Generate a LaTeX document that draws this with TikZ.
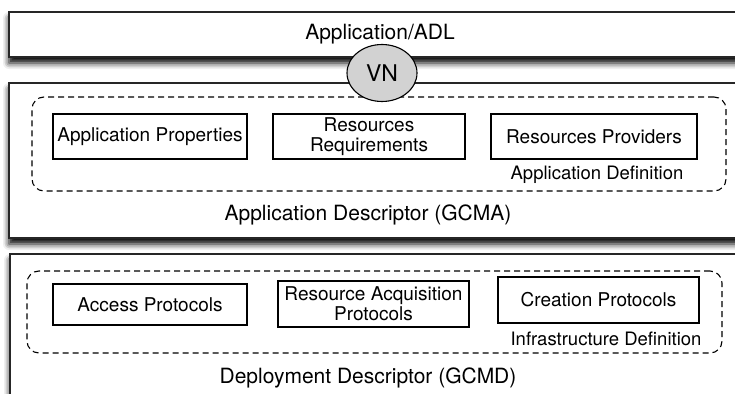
\documentclass[tikz,border=0pt]{standalone}
\usepackage{fontspec}
\setmainfont{TeX Gyre Heros}
\usetikzlibrary{shapes.geometric, shadows.blur}

\begin{document}
\begin{tikzpicture}[x=1pt, y=-1pt,
    layer/.style={draw=black!85, line width=1.8pt, fill=white, inner sep=0pt,
        blur shadow={shadow xshift=0pt, shadow yshift=-6pt, shadow blur radius=6pt, shadow opacity=100}},
    group/.style={draw, dash pattern=on 6pt off 4pt, line width=1.1pt, rounded corners=12pt, inner sep=0pt},
    part/.style={draw, line width=1.2pt, inner sep=0pt, align=center, font=\fontsize{19}{20}\selectfont},
    title/.style={font=\fontsize{21}{24}\selectfont},
    note/.style={font=\fontsize{18.5}{20}\selectfont}
]
    \useasboundingbox (0,0) rectangle (735,393);

    % the three layers
    \node[layer, minimum width=742, minimum height=45, title] (adl) at (380,34.5) {Application/ADL};
    \node[layer, minimum width=760, minimum height=155] (gcma) at (389,160.5) {};
    \node[layer, minimum width=760, minimum height=160] (gcmd) at (390,334) {};

    % application descriptor
    \node[group, minimum width=694, minimum height=94] (appdef) at (379,144) {};
    \node[part, minimum width=194, minimum height=45] (props) at (150,136.5) {Application Properties};
    \node[part, minimum width=192, minimum height=45] (reqs) at (369,136.5) {Resources\\Requirements};
    \node[part, minimum width=206, minimum height=45] (provs) at (594,136.5) {Resources Providers};
    \node[note] (appdeflabel) at (597,175) {Application Definition};
    \node[title] (gcmalabel) at (368,215) {Application Descriptor (GCMA)};

    % deployment descriptor
    \node[group, minimum width=695, minimum height=82] (infdef) at (374.5,312) {};
    \node[part, minimum width=194, minimum height=41] (access) at (150,304.5) {Access Protocols};
    \node[part, minimum width=191, minimum height=46] (acquis) at (373.5,304) {Resource Acquisition\\Protocols};
    \node[part, minimum width=201, minimum height=46] (create) at (598.5,300) {Creation Protocols};
    \node[note] (infdeflabel) at (606,339) {Infrastructure Definition};
    \node[title] (gcmdlabel) at (368,378) {Deployment Descriptor (GCMD)};

    % virtual node between the layers
    \node[ellipse, draw, line width=1.1pt, fill=gray!35, minimum width=70, minimum height=57, inner sep=0pt, font=\fontsize{23}{24}\selectfont] (vn) at (382,73) {VN};
\end{tikzpicture}
\end{document}
